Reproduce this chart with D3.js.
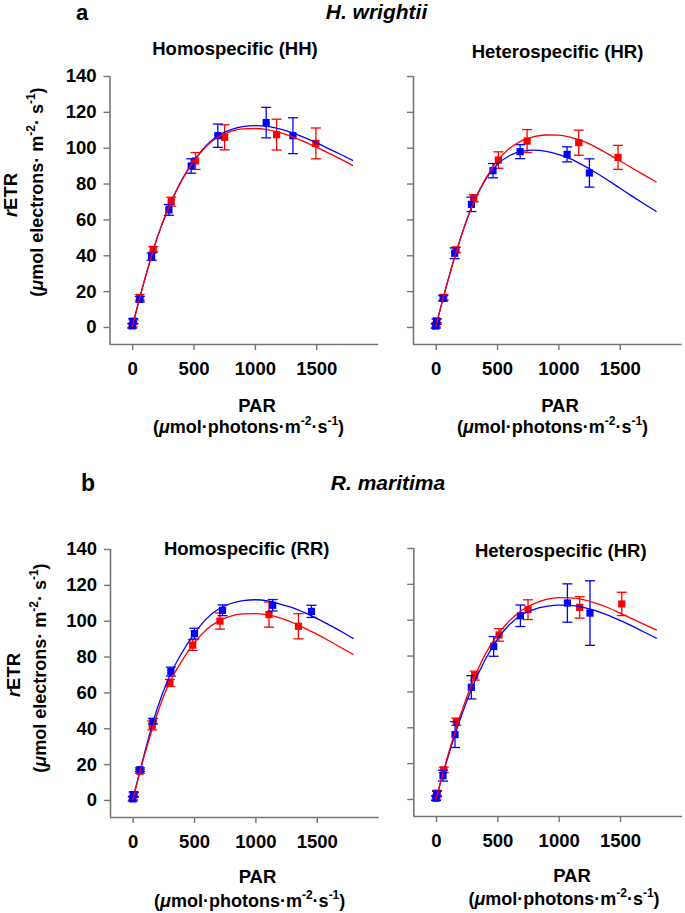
<!DOCTYPE html>
<html><head><meta charset="utf-8">
<script src="https://cdn.jsdelivr.net/npm/d3@7"></script>
<style>
html,body{margin:0;padding:0;background:#fff;}
svg{display:block;font-family:"Liberation Sans",Arial,sans-serif;font-weight:bold;}
</style></head>
<body>
<svg id="chart" width="685" height="913"></svg>
<script>
// ---------- data ----------
const parTicks = [0, 500, 1000, 1500];
const etrTicks = [0, 20, 40, 60, 80, 100, 120, 140];
const fitPAR = [0,100,200,300,400,500,600,700,800,900,1000,1100,1200,1300,1400,1500,1600,1700,1800];

// Panel a-left: Homospecific (HH)
const hhBluePAR = [0, 8, 62, 158, 299, 481, 698, 1092, 1310];
const hhBlueETR = [0.6, 3.2, 15.4, 39.2, 65.3, 89.8, 106.7, 114, 106.7];
const hhBlueSE  = [1.2, 1.5, 1.5, 2, 3, 4, 6.5, 8.5, 10];
const hhRedPAR  = [3, 10, 62, 171, 318, 516, 753, 1177, 1497];
const hhRedETR  = [1, 3, 16.5, 43.3, 69.9, 92.6, 105.8, 107.3, 102.4];
const hhRedSE   = [1, 1, 1.5, 1.5, 2.5, 4.7, 7, 8.6, 8.6];
const hhBlueFit = [0,26,49,67,81.5,92.5,101,106.8,110,111.8,112.3,111.9,110.5,108.4,105.8,102.8,99.5,96.2,92.8];
const hhRedFit  = [0,26,49,67,81.3,92.2,100.5,106,109,110.5,110.7,110.1,108.5,106.2,103.4,100.3,97,93.6,90];

// Panel a-right: Heterospecific (HR), H. wrightii
const hrABluePAR = [0, 8, 60, 155, 291, 467, 688, 1071, 1253];
const hrABlueETR = [0.5, 3, 16, 41.1, 68.4, 87.2, 97.8, 96.3, 85.9];
const hrABlueSE  = [1.2, 1.5, 1.5, 3, 4, 4, 3.9, 4.2, 7.9];
const hrARedPAR  = [3, 8, 65, 166, 310, 511, 745, 1166, 1486];
const hrARedETR  = [1, 3.5, 16.5, 43, 71.8, 93.1, 103.7, 102.8, 94.6];
const hrARedSE   = [1, 1, 1.5, 1.5, 2, 4.6, 6.4, 7, 6.7];
const hrABlueFit = [0,26,49,68,81.5,90.5,95.5,98,98.7,98,96.3,93.8,90.3,86.3,82,77.5,73,68.6,64.3];
const hrARedFit  = [0,26,49,68,82,92.5,99.5,103.8,106.2,107.1,107,105.8,103.7,100.5,96.7,92.7,88.7,84.7,80.7];

// Panel b-left: Homospecific (RR)
const rrBluePAR = [0, 8, 59, 165, 311, 503, 732, 1141, 1457];
const rrBlueETR = [0.6, 3, 16.9, 43.9, 71.6, 92.8, 105.8, 108.6, 105.2];
const rrBlueSE  = [1.2, 1.5, 1, 1.5, 2.5, 3, 3, 3.2, 3.4];
const rrRedPAR  = [3, 10, 59, 159, 303, 489, 711, 1111, 1351];
const rrRedETR  = [1, 3, 16, 41.6, 65.3, 86.4, 99.8, 103.4, 96.9];
const rrRedSE   = [1, 1, 1, 2.5, 2, 3, 4.5, 7, 7];
const rrBlueFit = [0,27,51,69,82,92.5,101,106.5,109.6,111.2,111.7,111.1,109.3,107.3,104.5,101.3,97.7,94,90];
const rrRedFit  = [0,26,48,65.5,77.5,87.5,95,99.8,102.6,103.8,103.9,103.2,101.6,99,95.9,92.5,88.8,84.9,81];

// Panel b-right: Heterospecific (HR), R. maritima
const hrBBluePAR = [0, 8, 57, 155, 288, 470, 688, 1071, 1255];
const hrBBlueETR = [0.4, 2.8, 13, 35.9, 62.3, 85.1, 102.2, 109.3, 103.7];
const hrBBlueSE  = [1.2, 1.5, 3, 7.2, 6.5, 5.5, 6, 10.7, 18];
const hrBRedPAR  = [3, 8, 63, 166, 315, 514, 750, 1171, 1514];
const hrBRedETR  = [1, 3.2, 16.2, 43.1, 68.8, 91.5, 105.6, 106.9, 108.8];
const hrBRedSE   = [1, 1.5, 1.5, 2, 2.5, 3.5, 5.5, 6, 6.5];
const hrBBlueFit = [0,24,45,63,77.5,89,97.3,102.8,105.8,107.4,108.1,108,106.9,105.1,102.6,99.6,96.4,93,89.5];
const hrBRedFit  = [0,25,47,65.5,80.5,91.5,99.5,105.3,109,111.3,112.3,112.2,111.2,109.3,106.8,103.7,100.5,97.3,94.2];

const BLUE = "#0000ff", RED = "#ff0000", AXIS = "#757575";

// ---------- drawing ----------
const svg = d3.select("#chart");
const W = 268.7, H = 268;

function zip(p, e, s){ return p.map((v,i)=>({x:v, y:e[i], s:s[i]})); }
function fitPts(f){ return fitPAR.map((v,i)=>({x:v, y:f[i]})); }

const panels = [
  {x0:109.5, y0:76, labels:true, title:"Homospecific (HH)", tx:235, ty:55,
   blue:zip(hhBluePAR,hhBlueETR,hhBlueSE), red:zip(hhRedPAR,hhRedETR,hhRedSE),
   bfit:hhBlueFit, rfit:hhRedFit, parX:257, parY:412, unitX:248.5, unitY:433},
  {x0:413, y0:76, labels:false, title:"Heterospecific (HR)", tx:557.5, ty:58,
   blue:zip(hrABluePAR,hrABlueETR,hrABlueSE), red:zip(hrARedPAR,hrARedETR,hrARedSE),
   bfit:hrABlueFit, rfit:hrARedFit, parX:560, parY:412, unitX:552.5, unitY:433},
  {x0:110, y0:549, labels:true, title:"Homospecific (RR)", tx:246.7, ty:555,
   blue:zip(rrBluePAR,rrBlueETR,rrBlueSE), red:zip(rrRedPAR,rrRedETR,rrRedSE),
   bfit:rrBlueFit, rfit:rrRedFit, parX:257.5, parY:883, unitX:249.7, unitY:906.5},
  {x0:413.3, y0:548, labels:false, title:"Heterospecific (HR)", tx:560.8, ty:556.5,
   blue:zip(hrBBluePAR,hrBBlueETR,hrBBlueSE), red:zip(hrBRedPAR,hrBRedETR,hrBRedSE),
   bfit:hrBBlueFit, rfit:hrBRedFit, parX:572, parY:881.5, unitX:564, unitY:905}
];

panels.forEach(p => {
  const x = d3.scaleLinear().domain([-185, 2005]).range([p.x0, p.x0 + W]);
  const y = d3.scaleLinear().domain([-9.5, 140]).range([p.y0 + H, p.y0]);
  const g = svg.append("g");

  // axes
  const yAxis = d3.axisLeft(y).tickValues(etrTicks).tickSize(6).tickPadding(6)
      .tickFormat(p.labels ? d3.format("d") : "");
  const gy = g.append("g").attr("transform", `translate(${p.x0},0)`).call(yAxis);
  const xAxis = d3.axisBottom(x).tickValues(parTicks).tickSize(6).tickPadding(12).tickFormat(d3.format("d"));
  const gx = g.append("g").attr("transform", `translate(0,${p.y0 + H})`).call(xAxis);
  [gx, gy].forEach(a => {
    a.select(".domain").attr("stroke", AXIS).attr("stroke-width", 1.6)
      .attr("d", a === gx ? `M${p.x0},0.5H${p.x0 + W}` : `M0.5,${p.y0}V${p.y0 + H}`);
    a.selectAll(".tick line").attr("stroke", AXIS).attr("stroke-width", 1.4);
    a.selectAll(".tick text").attr("fill", "#000").style("font-size", "18.5px")
      .style("font-weight", "bold").style("font-family", "'Liberation Sans', Arial, sans-serif");
  });
  gy.selectAll(".tick text").attr("x", -13);

  // points with error bars
  const line = d3.line().x(d => x(d.x)).y(d => y(d.y)).curve(d3.curveMonotoneX);
  [[p.red, RED], [p.blue, BLUE]].forEach(([data, col]) => {
    const eg = g.append("g").attr("stroke", col).attr("stroke-width", 1.3).attr("fill", "none");
    data.forEach(d => {
      const cx = x(d.x), yt = y(d.y + d.s), yb = y(d.y - d.s);
      eg.append("line").attr("x1", cx).attr("x2", cx).attr("y1", yt).attr("y2", yb);
      eg.append("line").attr("x1", cx - 5).attr("x2", cx + 5).attr("y1", yt).attr("y2", yt);
      eg.append("line").attr("x1", cx - 5).attr("x2", cx + 5).attr("y1", yb).attr("y2", yb);
    });
    g.append("g").selectAll("rect").data(data).join("rect")
      .attr("x", d => x(d.x) - 3.6).attr("y", d => y(d.y) - 3.6)
      .attr("width", 7.2).attr("height", 7.2).attr("fill", col);
  });
  // fitted curves
  g.append("path").datum(fitPts(p.bfit)).attr("d", line).attr("fill", "none")
    .attr("stroke", BLUE).attr("stroke-width", 1.3);
  g.append("path").datum(fitPts(p.rfit)).attr("d", line).attr("fill", "none")
    .attr("stroke", RED).attr("stroke-width", 1.3);

  // panel title
  svg.append("text").attr("x", p.tx).attr("y", p.ty).attr("text-anchor", "middle")
    .style("font-size", "18.5px").text(p.title);

  // x label
  svg.append("text").attr("x", p.parX).attr("y", p.parY).attr("text-anchor", "middle")
    .style("font-size", "18.5px").text("PAR");
  const t = svg.append("text").attr("x", p.unitX).attr("y", p.unitY).attr("text-anchor", "middle")
    .style("font-size", "18px");
  t.append("tspan").text("(");
  t.append("tspan").style("font-style", "italic").text("μ");
  t.append("tspan").text("mol·photons·m");
  t.append("tspan").attr("dy", -8).style("font-size", "12px").text("-2");
  t.append("tspan").attr("dy", 8).text("·s");
  t.append("tspan").attr("dy", -8).style("font-size", "12px").text("-1");
  t.append("tspan").attr("dy", 8).text(")");
});

// y labels
function yLabel(bx1, cy1, bx2, cy2){
  const a = svg.append("text").attr("transform", `translate(${bx1},${cy1}) rotate(-90)`)
    .attr("text-anchor", "middle").style("font-size", "18.5px");
  a.append("tspan").style("font-style", "italic").text("r");
  a.append("tspan").text("ETR");
  const b = svg.append("text").attr("transform", `translate(${bx2},${cy2}) rotate(-90)`)
    .attr("text-anchor", "middle").style("font-size", "18px");
  b.append("tspan").text("(");
  b.append("tspan").style("font-style", "italic").text("μ");
  b.append("tspan").text("mol electrons· m");
  b.append("tspan").attr("dy", -8).style("font-size", "12px").text("-2");
  b.append("tspan").attr("dy", 8).text("· s");
  b.append("tspan").attr("dy", -8).style("font-size", "12px").text("-1");
  b.append("tspan").attr("dy", 8).text(")");
}
yLabel(17, 195, 42.5, 192);
yLabel(20, 675, 46, 668);

// section headings
svg.append("text").attr("x", 82).attr("y", 20).attr("text-anchor", "middle").style("font-size", "22px").text("a");
svg.append("text").attr("x", 376.5).attr("y", 19).attr("text-anchor", "middle")
  .style("font-size", "21px").style("font-style", "italic").text("H. wrightii");
svg.append("text").attr("x", 88).attr("y", 491).attr("text-anchor", "middle").style("font-size", "23px").text("b");
svg.append("text").attr("x", 388).attr("y", 490).attr("text-anchor", "middle")
  .style("font-size", "21px").style("font-style", "italic").text("R. maritima");
</script>
</body></html>
